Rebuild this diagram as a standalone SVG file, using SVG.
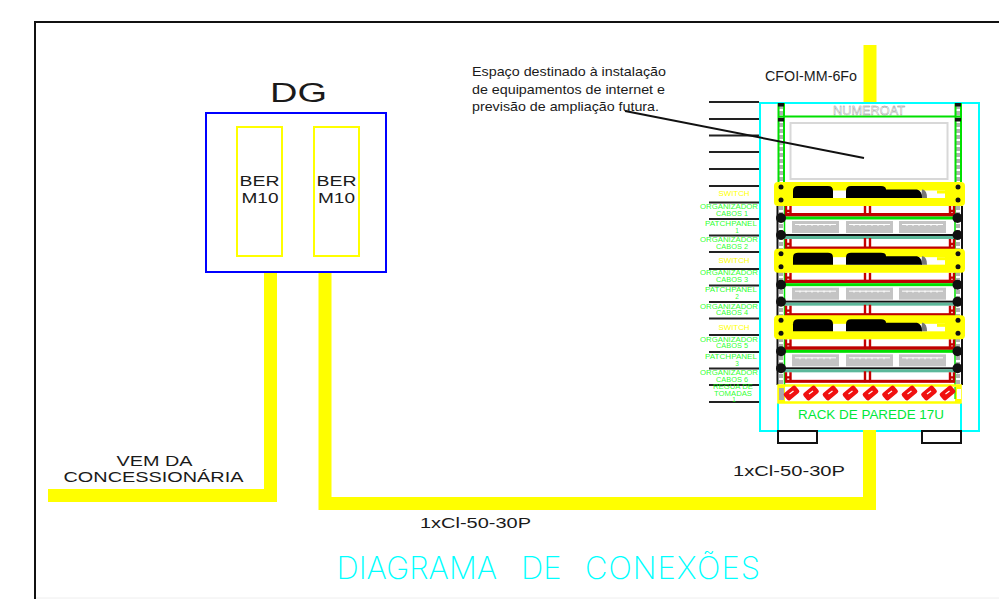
<svg xmlns="http://www.w3.org/2000/svg" xmlns:xlink="http://www.w3.org/1999/xlink" width="999" height="599" viewBox="0 0 999 599">
<style>
text{font-family:"Liberation Sans",Arial,sans-serif}
.k{fill:#1a1a1a}
.g{fill:#00ff00;font-size:6.500px;text-anchor:middle;fill-opacity:.85}
.y{fill:#ffff00;font-size:6.500px;text-anchor:middle}
.cable{fill:none;stroke:#ffff00;stroke-width:13}
.tick{stroke:#222;stroke-width:2}
.red{fill:none;stroke:#c40000;stroke-width:2.400}
.panel{fill:#c4c4c4}
.ptick{stroke:#fff;stroke-width:1}
.dots{stroke:#b0b0b0;stroke-width:4;stroke-dasharray:4 2}
</style>
<defs>
<g id="panel"><rect class="panel" width="47" height="12"/><path class="ptick" d="M3 3.500H44M8 3V5M14 3V5M20 3V5M26 3V5M32 3V5M38 3V5" fill="none"/></g>
<g id="unit">
<path class="red" d="M786 206V216M790.500 206V216M786 211H790M865 206V216M870 206V216M950 206V216M954 206V216M950 211H954"/>
<rect x="785" y="213" width="170" height="3.500" fill="#c00000"/>
<rect x="784" y="216.500" width="171" height="3" fill="#00e000"/>
<use xlink:href="#panel" x="792" y="221"/><use xlink:href="#panel" x="846" y="221"/><use xlink:href="#panel" x="899" y="221"/>
<rect x="784" y="234" width="171" height="2" fill="#111"/>
<rect x="784" y="236" width="171" height="3" fill="#5cb89a"/>
<path class="red" d="M786 239V249M790.500 239V249M786 244H790M865 238V249M870 238V249M950 239V249M954 239V249M950 244H954"/>
<rect x="785" y="246.500" width="170" height="3" fill="#c00000"/>
<circle cx="781" cy="218" r="5" fill="#111"/><circle cx="781" cy="235" r="5" fill="#111"/>
<circle cx="957.500" cy="218" r="5" fill="#111"/><circle cx="957.500" cy="235" r="5" fill="#111"/>
</g>
<g id="switch">
<rect x="774" y="182" width="191" height="24" rx="4" fill="#ffff00"/>
<rect x="833" y="190.500" width="112" height="7.500" fill="#fff"/>
<rect x="937" y="190.500" width="8" height="3" fill="#ffff00"/>
<path d="M922 189.500h1q4 1 4 8.500h-6z" fill="#777"/>
<path d="M793 198V191q0-5 5-5h30q5 0 5 5v7z" fill="#000"/>
<path d="M846 198V191q0-5 5-5h30q5 0 5 3.500h31q5 1 5 8.500z" fill="#000"/>
<circle cx="781" cy="187" r="2.500" fill="#111"/><circle cx="781" cy="200" r="2.500" fill="#111"/>
<circle cx="958" cy="187" r="2.500" fill="#111"/><circle cx="958" cy="200" r="2.500" fill="#111"/>
</g>
<g id="outlet">
<rect x="-7.500" y="-4.500" width="15" height="9" rx="2" transform="rotate(-40)" fill="#f01010"/>
<path d="M-2 1L2 -2" stroke="#fff" stroke-width="1.200"/>
</g>
</defs>

<g id="frame">
<path d="M35 599V22H999" fill="none" stroke="#111" stroke-width="2"/>
<path d="M36 598H999" stroke="#eee" stroke-width="1"/>
</g>

<g id="connectors">
<path class="cable" d="M48 495.500H270.500V272"/>
<path class="cable" d="M325 272V503.500H869.500V430"/>
<path class="cable" d="M870 45V102"/>
<g id="rack-ticks">
<path class="tick" d="M709 102H759M709 119H759M709 135.500H759M709 152H759M709 169H759M709 186H759M709 202.500H759M709 219H759M709 235.500H759M709 252H759M709 269H759M709 285.500H759M709 302H759M709 318.500H759M709 335H759M709 352H759M709 368.500H759M709 385H759M709 402H759"/>
</g>
</g>

<g id="node-dg">
<text class="k" x="270" y="102" font-size="27" textLength="57" lengthAdjust="spacingAndGlyphs">DG</text>
<rect x="206" y="113" width="180" height="159" fill="none" stroke="#0000ff" stroke-width="2"/>
</g>
<g id="node-ber-1">
<rect x="237" y="127" width="45" height="129" fill="none" stroke="#ffff00" stroke-width="2"/>
<text class="k" x="239.500" y="186" font-size="15" textLength="40" lengthAdjust="spacingAndGlyphs">BER</text>
<text class="k" x="241.500" y="203" font-size="15" textLength="37" lengthAdjust="spacingAndGlyphs">M10</text>
</g>
<g id="node-ber-2">
<rect x="314" y="127" width="45" height="129" fill="none" stroke="#ffff00" stroke-width="2"/>
<text class="k" x="316.500" y="186" font-size="15" textLength="40" lengthAdjust="spacingAndGlyphs">BER</text>
<text class="k" x="318" y="203" font-size="15" textLength="37" lengthAdjust="spacingAndGlyphs">M10</text>
</g>

<g id="node-rack">
<rect x="760" y="103" width="219" height="328" fill="#fff" stroke="#00ffff" stroke-width="2"/>
<path d="M778 403V430M961 403V430" stroke="#00ffff" stroke-width="2"/>
<rect x="778" y="431" width="39" height="12" fill="#fff" stroke="#111" stroke-width="2"/>
<rect x="922" y="431" width="39" height="12" fill="#fff" stroke="#111" stroke-width="2"/>
<rect x="863" y="430" width="13" height="2" fill="#ffff00"/>

<path class="dots" d="M781 105V182M958 105V182M781 206V385M958 206V385"/>
<path d="M778.500 103V182M784 103V182M955.500 103V182M961 103V182" stroke="#00e000" stroke-width="2"/>
<path d="M779 116.500H961" stroke="#00e000" stroke-width="2"/>
<path d="M777.500 206V385M962 206V385" stroke="#111" stroke-width="2"/>
<path d="M784.500 206V385M955 206V385" stroke="#00e000" stroke-width="1.500"/>
<rect x="778" y="103" width="6" height="3.500" fill="#111"/><rect x="955" y="103" width="6" height="3.500" fill="#111"/>
<rect x="778" y="118" width="6" height="3.500" fill="#111"/><rect x="955" y="118" width="6" height="3.500" fill="#111"/>
<text x="833" y="115" font-size="13.500" fill="#fff" stroke="#8a8a8a" stroke-width=".4" textLength="72" lengthAdjust="spacingAndGlyphs">NUMEROAT</text>
<rect x="790.500" y="123" width="157" height="56" fill="#fff" stroke="#d8d8d8" stroke-width="2"/>

<use xlink:href="#unit"/>
<use xlink:href="#unit" y="66.670"/>
<use xlink:href="#unit" y="133.330"/>
<use xlink:href="#switch"/>
<use xlink:href="#switch" y="66.670"/>
<use xlink:href="#switch" y="133.330"/>

<rect x="778.500" y="385.500" width="182" height="17" fill="#fff" stroke="#ffff00" stroke-width="2.500"/>
<rect x="778" y="385" width="7" height="18" fill="#ffff00"/>
<rect x="955" y="385" width="6" height="18" fill="#ffff00"/>
<rect x="779" y="388" width="5" height="12" fill="#aaa"/>
<rect x="957" y="389" width="4" height="10" fill="#fff"/>
<path d="M955 387V399" stroke="#00e000" stroke-width="1.200"/>
<use xlink:href="#outlet" x="791.500" y="393"/><use xlink:href="#outlet" x="811" y="393"/><use xlink:href="#outlet" x="830.500" y="393"/><use xlink:href="#outlet" x="850.500" y="393"/><use xlink:href="#outlet" x="870.500" y="393"/><use xlink:href="#outlet" x="890" y="393"/><use xlink:href="#outlet" x="909.500" y="393"/><use xlink:href="#outlet" x="929" y="393"/><use xlink:href="#outlet" x="947.500" y="393"/>
<text x="798" y="419" font-size="13" fill="#00e83a" textLength="146" lengthAdjust="spacingAndGlyphs">RACK DE PAREDE 17U</text>
</g>

<g id="rack-labels">
<text class="y" x="734" y="196" textLength="31" lengthAdjust="spacingAndGlyphs">SWITCH</text>
<text class="g" x="729" y="209" textLength="58" lengthAdjust="spacingAndGlyphs">ORGANIZADOR</text>
<text class="g" x="732" y="215.500" textLength="32" lengthAdjust="spacingAndGlyphs">CABOS 1</text>
<text class="g" x="731" y="226" textLength="52" lengthAdjust="spacingAndGlyphs">PATCHPANEL</text>
<text class="g" x="737" y="232.500">1</text>
<text class="g" x="729" y="242" textLength="58" lengthAdjust="spacingAndGlyphs">ORGANIZADOR</text>
<text class="g" x="732" y="248.500" textLength="32" lengthAdjust="spacingAndGlyphs">CABOS 2</text>
<text class="y" x="734" y="263" textLength="31" lengthAdjust="spacingAndGlyphs">SWITCH</text>
<text class="g" x="729" y="275" textLength="58" lengthAdjust="spacingAndGlyphs">ORGANIZADOR</text>
<text class="g" x="732" y="281.500" textLength="32" lengthAdjust="spacingAndGlyphs">CABOS 3</text>
<text class="g" x="731" y="292" textLength="52" lengthAdjust="spacingAndGlyphs">PATCHPANEL</text>
<text class="g" x="737" y="298.500">2</text>
<text class="g" x="729" y="308.500" textLength="58" lengthAdjust="spacingAndGlyphs">ORGANIZADOR</text>
<text class="g" x="732" y="315" textLength="32" lengthAdjust="spacingAndGlyphs">CABOS 4</text>
<text class="y" x="734" y="329.500" textLength="31" lengthAdjust="spacingAndGlyphs">SWITCH</text>
<text class="g" x="729" y="341.500" textLength="58" lengthAdjust="spacingAndGlyphs">ORGANIZADOR</text>
<text class="g" x="732" y="348" textLength="32" lengthAdjust="spacingAndGlyphs">CABOS 5</text>
<text class="g" x="731" y="359" textLength="52" lengthAdjust="spacingAndGlyphs">PATCHPANEL</text>
<text class="g" x="737" y="365.500">3</text>
<text class="g" x="729" y="375" textLength="58" lengthAdjust="spacingAndGlyphs">ORGANIZADOR</text>
<text class="g" x="732" y="381.500" textLength="32" lengthAdjust="spacingAndGlyphs">CABOS 6</text>
<text class="g" x="733" y="389" textLength="40" lengthAdjust="spacingAndGlyphs">REGUA DE</text>
<text class="g" x="733" y="395.500" textLength="38" lengthAdjust="spacingAndGlyphs">TOMADAS</text>
<text class="g" x="734" y="402">1</text>
</g>

<g id="labels">
<path d="M625 111L864 158" stroke="#111" stroke-width="2"/>
<text class="k" x="472" y="76" font-size="13.500" textLength="194" lengthAdjust="spacingAndGlyphs">Espaço destinado à instalação</text>
<text class="k" x="472" y="93.500" font-size="13.500" textLength="193" lengthAdjust="spacingAndGlyphs">de equipamentos de internet e</text>
<text class="k" x="472" y="111" font-size="13.500" textLength="187" lengthAdjust="spacingAndGlyphs">previsão de ampliação futura.</text>
<text class="k" x="765" y="81" font-size="14" textLength="92" lengthAdjust="spacingAndGlyphs">CFOI-MM-6Fo</text>
<text class="k" x="733" y="476" font-size="14" textLength="112" lengthAdjust="spacingAndGlyphs">1xCl-50-30P</text>
<text class="k" x="420" y="528" font-size="14" textLength="111" lengthAdjust="spacingAndGlyphs">1xCl-50-30P</text>
<text class="k" x="116.500" y="466" font-size="14" textLength="76" lengthAdjust="spacingAndGlyphs">VEM DA</text>
<text class="k" x="63.500" y="481.500" font-size="14" textLength="180" lengthAdjust="spacingAndGlyphs">CONCESSIONÁRIA</text>
<text y="578.500" font-size="31" fill="#00ffff" style="font-family:Inter,'Liberation Sans',sans-serif;font-weight:200"><tspan x="336.500">DIAGRAMA</tspan> <tspan x="521">DE</tspan> <tspan x="585" letter-spacing="1">CONEXÕES</tspan></text>
</g>
</svg>
